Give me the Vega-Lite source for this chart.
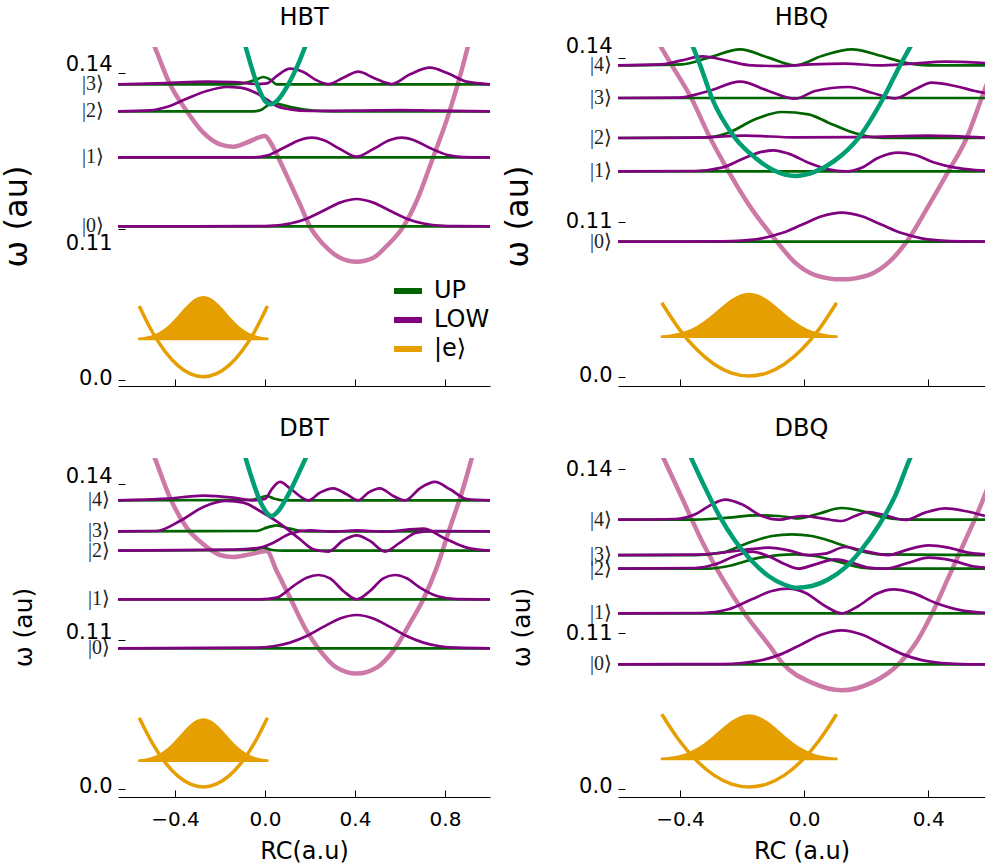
{
"$schema":"https://vega.github.io/schema/vega-lite/v6.json",
"background":"white",
"padding":{"left":0,"top":5,"right":0,"bottom":0},
"config":{"view":{"stroke":null},"axis":{"labelFont":"DejaVu Sans","titleFont":"DejaVu Sans","grid":false},"legend":{"labelFont":"DejaVu Sans"}},
"datasets":{
"hbtlab":[{"t":"|0⟩","x":-0.6533,"y":0.11057},{"t":"|1⟩","x":-0.6533,"y":0.12384},{"t":"|2⟩","x":-0.6533,"y":0.13269},{"t":"|3⟩","x":-0.6533,"y":0.13788}],
"hbqlab":[{"t":"|0⟩","x":-0.6,"y":0.10635},{"t":"|1⟩","x":-0.6,"y":0.11921},{"t":"|2⟩","x":-0.6,"y":0.12531},{"t":"|3⟩","x":-0.6,"y":0.13263},{"t":"|4⟩","x":-0.6,"y":0.1386}],
"dbtlab":[{"t":"|0⟩","x":-0.6533,"y":0.10846},{"t":"|1⟩","x":-0.6533,"y":0.11788},{"t":"|2⟩","x":-0.6533,"y":0.12724},{"t":"|3⟩","x":-0.6533,"y":0.13096},{"t":"|4⟩","x":-0.6533,"y":0.13692}],
"dbqlab":[{"t":"|0⟩","x":-0.6,"y":0.10433},{"t":"|1⟩","x":-0.6,"y":0.11365},{"t":"|2⟩","x":-0.6,"y":0.12182},{"t":"|3⟩","x":-0.6,"y":0.12432},{"t":"|4⟩","x":-0.6,"y":0.13079}],
"hbt":[
{"k":"VL","x":-0.505,"y":0.1466},{"k":"VL","x":-0.4889,"y":0.14493},{"k":"VL","x":-0.4222,"y":0.13788},{"k":"VL","x":-0.3481,"y":0.13275},{"k":"VL","x":-0.2741,"y":0.12858},{"k":"VL","x":-0.2,"y":0.12634},{"k":"VL","x":-0.1407,"y":0.12589},{"k":"VL","x":-0.0815,"y":0.12666},{"k":"VL","x":-0.0296,"y":0.12762},{"k":"VL","x":0.0,"y":0.12794},{"k":"VL","x":0.0252,"y":0.12666},{"k":"VL","x":0.0593,"y":0.12378},{"k":"VL","x":0.1111,"y":0.11897},{"k":"VL","x":0.1556,"y":0.1148},{"k":"VL","x":0.2,"y":0.11051},{"k":"VL","x":0.2593,"y":0.10711},{"k":"VL","x":0.3333,"y":0.10454},{"k":"VL","x":0.4074,"y":0.10378},{"k":"VL","x":0.4815,"y":0.10454},{"k":"VL","x":0.5407,"y":0.10679},{"k":"VL","x":0.6148,"y":0.11051},{"k":"VL","x":0.6741,"y":0.11544},{"k":"VL","x":0.7481,"y":0.12397},{"k":"VL","x":0.8074,"y":0.131},{"k":"VL","x":0.8519,"y":0.1372},{"k":"VL","x":0.8889,"y":0.143},{"k":"VL","x":0.91,"y":0.1466},
{"k":"VU","x":-0.092,"y":0.146},{"k":"VU","x":-0.0859,"y":0.14506},{"k":"VU","x":-0.0593,"y":0.14108},{"k":"VU","x":-0.0296,"y":0.13724},{"k":"VU","x":0.0,"y":0.13468},{"k":"VU","x":0.0252,"y":0.13404},{"k":"VU","x":0.0593,"y":0.135},{"k":"VU","x":0.1037,"y":0.13788},{"k":"VU","x":0.1407,"y":0.14108},{"k":"VU","x":0.1778,"y":0.14506},{"k":"VU","x":0.185,"y":0.1459},
{"k":"UP","n":0,"x":-0.6533,"y":0.11057},{"k":"UP","n":0,"x":1.0,"y":0.11057},
{"k":"UP","n":1,"x":-0.6533,"y":0.12384},{"k":"UP","n":1,"x":1.0,"y":0.12384},
{"k":"UP","n":2,"x":-0.6533,"y":0.13269},{"k":"UP","n":2,"x":-0.0519,"y":0.13269},{"k":"UP","n":2,"x":-0.0148,"y":0.13301},{"k":"UP","n":2,"x":0.0074,"y":0.13371},{"k":"UP","n":2,"x":0.0296,"y":0.13429},{"k":"UP","n":2,"x":0.0667,"y":0.13404},{"k":"UP","n":2,"x":0.1259,"y":0.13339},{"k":"UP","n":2,"x":0.2148,"y":0.13281},{"k":"UP","n":2,"x":0.3037,"y":0.13269},{"k":"UP","n":2,"x":1.0,"y":0.13269},
{"k":"UP","n":3,"x":-0.6533,"y":0.13788},{"k":"UP","n":3,"x":-0.1407,"y":0.13788},{"k":"UP","n":3,"x":-0.0815,"y":0.1382},{"k":"UP","n":3,"x":-0.037,"y":0.13884},{"k":"UP","n":3,"x":-0.0074,"y":0.13929},{"k":"UP","n":3,"x":0.0222,"y":0.13884},{"k":"UP","n":3,"x":0.0519,"y":0.13788},{"k":"UP","n":3,"x":0.0963,"y":0.13788},{"k":"UP","n":3,"x":1.0,"y":0.13788},
{"k":"LOW","n":0,"x":-0.6533,"y":0.11057},{"k":"LOW","n":0,"x":-0.037,"y":0.1106},{"k":"LOW","n":0,"x":0.037,"y":0.11072},{"k":"LOW","n":0,"x":0.1111,"y":0.11112},{"k":"LOW","n":0,"x":0.1852,"y":0.11204},{"k":"LOW","n":0,"x":0.2593,"y":0.11356},{"k":"LOW","n":0,"x":0.3333,"y":0.11513},{"k":"LOW","n":0,"x":0.4074,"y":0.11583},{"k":"LOW","n":0,"x":0.4815,"y":0.11513},{"k":"LOW","n":0,"x":0.5555,"y":0.11356},{"k":"LOW","n":0,"x":0.6296,"y":0.11204},{"k":"LOW","n":0,"x":0.7037,"y":0.11112},{"k":"LOW","n":0,"x":0.7778,"y":0.11072},{"k":"LOW","n":0,"x":0.8518,"y":0.1106},{"k":"LOW","n":0,"x":1.0,"y":0.11057},
{"k":"LOW","n":1,"x":-0.6533,"y":0.12384},{"k":"LOW","n":1,"x":-0.0519,"y":0.12384},{"k":"LOW","n":1,"x":0.0074,"y":0.12416},{"k":"LOW","n":1,"x":0.0815,"y":0.12563},{"k":"LOW","n":1,"x":0.1556,"y":0.12717},{"k":"LOW","n":1,"x":0.2074,"y":0.12762},{"k":"LOW","n":1,"x":0.2593,"y":0.12717},{"k":"LOW","n":1,"x":0.3333,"y":0.12544},{"k":"LOW","n":1,"x":0.4074,"y":0.12397},{"k":"LOW","n":1,"x":0.4815,"y":0.12544},{"k":"LOW","n":1,"x":0.5556,"y":0.12717},{"k":"LOW","n":1,"x":0.6074,"y":0.12762},{"k":"LOW","n":1,"x":0.6593,"y":0.12717},{"k":"LOW","n":1,"x":0.7333,"y":0.12563},{"k":"LOW","n":1,"x":0.8074,"y":0.12435},{"k":"LOW","n":1,"x":0.8815,"y":0.1239},{"k":"LOW","n":1,"x":1.0,"y":0.12384},
{"k":"LOW","n":2,"x":-0.6533,"y":0.13269},{"k":"LOW","n":2,"x":-0.5111,"y":0.13288},{"k":"LOW","n":2,"x":-0.437,"y":0.13352},{"k":"LOW","n":2,"x":-0.3481,"y":0.13512},{"k":"LOW","n":2,"x":-0.2593,"y":0.1366},{"k":"LOW","n":2,"x":-0.1704,"y":0.13737},{"k":"LOW","n":2,"x":-0.1111,"y":0.13724},{"k":"LOW","n":2,"x":-0.0519,"y":0.13647},{"k":"LOW","n":2,"x":0.0074,"y":0.13499},{"k":"LOW","n":2,"x":0.0519,"y":0.13371},{"k":"LOW","n":2,"x":0.1111,"y":0.13307},{"k":"LOW","n":2,"x":0.2,"y":0.13275},{"k":"LOW","n":2,"x":0.4074,"y":0.13281},{"k":"LOW","n":2,"x":0.6,"y":0.13294},{"k":"LOW","n":2,"x":0.7481,"y":0.13281},{"k":"LOW","n":2,"x":1.0,"y":0.13269},
{"k":"LOW","n":3,"x":-0.6533,"y":0.13788},{"k":"LOW","n":3,"x":-0.437,"y":0.13813},{"k":"LOW","n":3,"x":-0.2593,"y":0.13839},{"k":"LOW","n":3,"x":-0.1407,"y":0.13833},{"k":"LOW","n":3,"x":-0.037,"y":0.13794},{"k":"LOW","n":3,"x":0.0074,"y":0.13807},{"k":"LOW","n":3,"x":0.0519,"y":0.13948},{"k":"LOW","n":3,"x":0.1111,"y":0.14089},{"k":"LOW","n":3,"x":0.1704,"y":0.14025},{"k":"LOW","n":3,"x":0.2296,"y":0.13865},{"k":"LOW","n":3,"x":0.2815,"y":0.13794},{"k":"LOW","n":3,"x":0.3481,"y":0.13916},{"k":"LOW","n":3,"x":0.4148,"y":0.14032},{"k":"LOW","n":3,"x":0.4815,"y":0.13916},{"k":"LOW","n":3,"x":0.563,"y":0.13794},{"k":"LOW","n":3,"x":0.6444,"y":0.1398},{"k":"LOW","n":3,"x":0.7333,"y":0.14108},{"k":"LOW","n":3,"x":0.8074,"y":0.14012},{"k":"LOW","n":3,"x":0.8963,"y":0.13839},{"k":"LOW","n":3,"x":1.0,"y":0.13788},
{"k":"eV","x":-0.559,"y":0.74},{"k":"eV","x":-0.502,"y":0.485},{"k":"eV","x":-0.445,"y":0.288},{"k":"eV","x":-0.388,"y":0.146},{"k":"eV","x":-0.331,"y":0.061},{"k":"eV","x":-0.274,"y":0.033},{"k":"eV","x":-0.217,"y":0.061},{"k":"eV","x":-0.16,"y":0.146},{"k":"eV","x":-0.103,"y":0.288},{"k":"eV","x":-0.046,"y":0.485},{"k":"eV","x":0.011,"y":0.74},
{"k":"eW","b":0.407,"x":-0.559,"y":0.414},{"k":"eW","b":0.407,"x":-0.5305,"y":0.423},{"k":"eW","b":0.407,"x":-0.502,"y":0.438},{"k":"eW","b":0.407,"x":-0.4735,"y":0.464},{"k":"eW","b":0.407,"x":-0.445,"y":0.504},{"k":"eW","b":0.407,"x":-0.4165,"y":0.559},{"k":"eW","b":0.407,"x":-0.388,"y":0.627},{"k":"eW","b":0.407,"x":-0.3595,"y":0.7},{"k":"eW","b":0.407,"x":-0.331,"y":0.766},{"k":"eW","b":0.407,"x":-0.3025,"y":0.813},{"k":"eW","b":0.407,"x":-0.274,"y":0.83},{"k":"eW","b":0.407,"x":-0.2455,"y":0.813},{"k":"eW","b":0.407,"x":-0.217,"y":0.766},{"k":"eW","b":0.407,"x":-0.1885,"y":0.7},{"k":"eW","b":0.407,"x":-0.16,"y":0.627},{"k":"eW","b":0.407,"x":-0.1315,"y":0.559},{"k":"eW","b":0.407,"x":-0.103,"y":0.504},{"k":"eW","b":0.407,"x":-0.0745,"y":0.464},{"k":"eW","b":0.407,"x":-0.046,"y":0.438},{"k":"eW","b":0.407,"x":-0.0175,"y":0.423},{"k":"eW","b":0.407,"x":0.011,"y":0.414}
],
"hbq":[
{"k":"VL","x":-0.48,"y":0.1437},{"k":"VL","x":-0.4616,"y":0.14196},{"k":"VL","x":-0.4262,"y":0.1386},{"k":"VL","x":-0.3639,"y":0.13263},{"k":"VL","x":-0.3027,"y":0.12531},{"k":"VL","x":-0.2437,"y":0.11921},{"k":"VL","x":-0.1793,"y":0.11318},{"k":"VL","x":-0.088,"y":0.10635},{"k":"VL","x":-0.029,"y":0.10251},{"k":"VL","x":0.0354,"y":0.10025},{"k":"VL","x":0.1213,"y":0.09946},{"k":"VL","x":0.2072,"y":0.10025},{"k":"VL","x":0.2716,"y":0.10251},{"k":"VL","x":0.3307,"y":0.10635},{"k":"VL","x":0.4004,"y":0.11287},{"k":"VL","x":0.4648,"y":0.11921},{"k":"VL","x":0.5239,"y":0.12531},{"k":"VL","x":0.5722,"y":0.13263},{"k":"VL","x":0.6044,"y":0.13757},
{"k":"VU","x":-0.3618,"y":0.14245},{"k":"VU","x":-0.3349,"y":0.1386},{"k":"VU","x":-0.2974,"y":0.13263},{"k":"VU","x":-0.2222,"y":0.12531},{"k":"VU","x":-0.1578,"y":0.12171},{"k":"VU","x":-0.0934,"y":0.11927},{"k":"VU","x":-0.029,"y":0.11836},{"k":"VU","x":0.0354,"y":0.11915},{"k":"VU","x":0.0998,"y":0.12123},{"k":"VU","x":0.175,"y":0.12531},{"k":"VU","x":0.2555,"y":0.13263},{"k":"VU","x":0.3092,"y":0.1386},{"k":"VU","x":0.3468,"y":0.14245},
{"k":"UP","n":0,"x":-0.6,"y":0.10635},{"k":"UP","n":0,"x":0.583,"y":0.10635},
{"k":"UP","n":1,"x":-0.6,"y":0.11921},{"k":"UP","n":1,"x":0.583,"y":0.11921},
{"k":"UP","n":2,"x":-0.6,"y":0.12531},{"k":"UP","n":2,"x":-0.3296,"y":0.12537},{"k":"UP","n":2,"x":-0.2437,"y":0.12629},{"k":"UP","n":2,"x":-0.1578,"y":0.12873},{"k":"UP","n":2,"x":-0.0719,"y":0.13007},{"k":"UP","n":2,"x":0.014,"y":0.12964},{"k":"UP","n":2,"x":0.0784,"y":0.12812},{"k":"UP","n":2,"x":0.1428,"y":0.12659},{"k":"UP","n":2,"x":0.2179,"y":0.12549},{"k":"UP","n":2,"x":0.2931,"y":0.12531},{"k":"UP","n":2,"x":0.583,"y":0.12531},
{"k":"UP","n":3,"x":-0.6,"y":0.13263},{"k":"UP","n":3,"x":0.583,"y":0.13263},
{"k":"UP","n":4,"x":-0.6,"y":0.1386},{"k":"UP","n":4,"x":-0.394,"y":0.13879},{"k":"UP","n":4,"x":-0.3081,"y":0.14001},{"k":"UP","n":4,"x":-0.2061,"y":0.14153},{"k":"UP","n":4,"x":-0.1149,"y":0.14001},{"k":"UP","n":4,"x":-0.029,"y":0.1386},{"k":"UP","n":4,"x":0.0569,"y":0.14031},{"k":"UP","n":4,"x":0.1535,"y":0.14153},{"k":"UP","n":4,"x":0.2501,"y":0.14031},{"k":"UP","n":4,"x":0.3253,"y":0.13909},{"k":"UP","n":4,"x":0.4004,"y":0.1386},{"k":"UP","n":4,"x":0.583,"y":0.1386},
{"k":"LOW","n":0,"x":-0.6,"y":0.10635},{"k":"LOW","n":0,"x":-0.2652,"y":0.10639},{"k":"LOW","n":0,"x":-0.2008,"y":0.10653},{"k":"LOW","n":0,"x":-0.1364,"y":0.10696},{"k":"LOW","n":0,"x":-0.0719,"y":0.10793},{"k":"LOW","n":0,"x":-0.0075,"y":0.10944},{"k":"LOW","n":0,"x":0.0569,"y":0.11099},{"k":"LOW","n":0,"x":0.1213,"y":0.11166},{"k":"LOW","n":0,"x":0.1857,"y":0.11099},{"k":"LOW","n":0,"x":0.2501,"y":0.10944},{"k":"LOW","n":0,"x":0.3145,"y":0.10793},{"k":"LOW","n":0,"x":0.379,"y":0.10696},{"k":"LOW","n":0,"x":0.4434,"y":0.10653},{"k":"LOW","n":0,"x":0.5078,"y":0.10639},{"k":"LOW","n":0,"x":0.583,"y":0.10635},
{"k":"LOW","n":1,"x":-0.6,"y":0.11921},{"k":"LOW","n":1,"x":-0.351,"y":0.11928},{"k":"LOW","n":1,"x":-0.2652,"y":0.11989},{"k":"LOW","n":1,"x":-0.2008,"y":0.12141},{"k":"LOW","n":1,"x":-0.1471,"y":0.12263},{"k":"LOW","n":1,"x":-0.0988,"y":0.12306},{"k":"LOW","n":1,"x":-0.0505,"y":0.12245},{"k":"LOW","n":1,"x":0.014,"y":0.1208},{"k":"LOW","n":1,"x":0.0784,"y":0.11958},{"k":"LOW","n":1,"x":0.132,"y":0.11921},{"k":"LOW","n":1,"x":0.1857,"y":0.11989},{"k":"LOW","n":1,"x":0.2394,"y":0.12171},{"k":"LOW","n":1,"x":0.3038,"y":0.12263},{"k":"LOW","n":1,"x":0.3575,"y":0.1222},{"k":"LOW","n":1,"x":0.4219,"y":0.1208},{"k":"LOW","n":1,"x":0.4863,"y":0.11989},{"k":"LOW","n":1,"x":0.5507,"y":0.11946},{"k":"LOW","n":1,"x":0.6151,"y":0.11928},
{"k":"LOW","n":2,"x":-0.6,"y":0.12531},{"k":"LOW","n":2,"x":-0.351,"y":0.12537},{"k":"LOW","n":2,"x":-0.19,"y":0.12574},{"k":"LOW","n":2,"x":-0.029,"y":0.12543},{"k":"LOW","n":2,"x":0.1857,"y":0.12549},{"k":"LOW","n":2,"x":0.4004,"y":0.12574},{"k":"LOW","n":2,"x":0.583,"y":0.12537},
{"k":"LOW","n":3,"x":-0.6,"y":0.13263},{"k":"LOW","n":3,"x":-0.4047,"y":0.13269},{"k":"LOW","n":3,"x":-0.3081,"y":0.13391},{"k":"LOW","n":3,"x":-0.2061,"y":0.13561},{"k":"LOW","n":3,"x":-0.1149,"y":0.13391},{"k":"LOW","n":3,"x":-0.029,"y":0.1325},{"k":"LOW","n":3,"x":0.0354,"y":0.13391},{"k":"LOW","n":3,"x":0.1428,"y":0.13464},{"k":"LOW","n":3,"x":0.2179,"y":0.1336},{"k":"LOW","n":3,"x":0.2931,"y":0.13257},{"k":"LOW","n":3,"x":0.3575,"y":0.13421},{"k":"LOW","n":3,"x":0.4112,"y":0.13543},{"k":"LOW","n":3,"x":0.4863,"y":0.13482},{"k":"LOW","n":3,"x":0.5507,"y":0.13391},{"k":"LOW","n":3,"x":0.5829,"y":0.13354},
{"k":"LOW","n":4,"x":-0.6,"y":0.1386},{"k":"LOW","n":4,"x":-0.4584,"y":0.13879},{"k":"LOW","n":4,"x":-0.394,"y":0.13952},{"k":"LOW","n":4,"x":-0.3296,"y":0.14025},{"k":"LOW","n":4,"x":-0.2437,"y":0.1394},{"k":"LOW","n":4,"x":-0.1793,"y":0.13866},{"k":"LOW","n":4,"x":-0.0827,"y":0.13848},{"k":"LOW","n":4,"x":0.0247,"y":0.13879},{"k":"LOW","n":4,"x":0.132,"y":0.13891},{"k":"LOW","n":4,"x":0.2394,"y":0.1386},{"k":"LOW","n":4,"x":0.3468,"y":0.13891},{"k":"LOW","n":4,"x":0.4541,"y":0.13927},{"k":"LOW","n":4,"x":0.5829,"y":0.13903},
{"k":"eV","x":-0.4589,"y":0.743},{"k":"eV","x":-0.4025,"y":0.479},{"k":"eV","x":-0.3462,"y":0.274},{"k":"eV","x":-0.2898,"y":0.127},{"k":"eV","x":-0.2335,"y":0.039},{"k":"eV","x":-0.1771,"y":0.01},{"k":"eV","x":-0.1207,"y":0.039},{"k":"eV","x":-0.0644,"y":0.127},{"k":"eV","x":-0.008,"y":0.274},{"k":"eV","x":0.0483,"y":0.479},{"k":"eV","x":0.1047,"y":0.743},
{"k":"eW","b":0.4,"x":-0.4589,"y":0.407},{"k":"eW","b":0.4,"x":-0.4307,"y":0.416},{"k":"eW","b":0.4,"x":-0.4025,"y":0.432},{"k":"eW","b":0.4,"x":-0.3744,"y":0.458},{"k":"eW","b":0.4,"x":-0.3462,"y":0.5},{"k":"eW","b":0.4,"x":-0.318,"y":0.556},{"k":"eW","b":0.4,"x":-0.2898,"y":0.625},{"k":"eW","b":0.4,"x":-0.2616,"y":0.7},{"k":"eW","b":0.4,"x":-0.2335,"y":0.768},{"k":"eW","b":0.4,"x":-0.2053,"y":0.816},{"k":"eW","b":0.4,"x":-0.1771,"y":0.833},{"k":"eW","b":0.4,"x":-0.1489,"y":0.816},{"k":"eW","b":0.4,"x":-0.1207,"y":0.768},{"k":"eW","b":0.4,"x":-0.0926,"y":0.7},{"k":"eW","b":0.4,"x":-0.0644,"y":0.625},{"k":"eW","b":0.4,"x":-0.0362,"y":0.556},{"k":"eW","b":0.4,"x":-0.008,"y":0.5},{"k":"eW","b":0.4,"x":0.0202,"y":0.458},{"k":"eW","b":0.4,"x":0.0483,"y":0.432},{"k":"eW","b":0.4,"x":0.0765,"y":0.416},{"k":"eW","b":0.4,"x":0.1047,"y":0.407}
],
"dbt":[
{"k":"VL","x":-0.505,"y":0.1468},{"k":"VL","x":-0.4889,"y":0.14499},{"k":"VL","x":-0.4222,"y":0.13743},{"k":"VL","x":-0.3481,"y":0.13167},{"k":"VL","x":-0.2741,"y":0.12846},{"k":"VL","x":-0.2,"y":0.12641},{"k":"VL","x":-0.1407,"y":0.12603},{"k":"VL","x":-0.0667,"y":0.12653},{"k":"VL","x":0.0074,"y":0.12718},{"k":"VL","x":0.0519,"y":0.12333},{"k":"VL","x":0.1111,"y":0.11821},{"k":"VL","x":0.1852,"y":0.1118},{"k":"VL","x":0.237,"y":0.10846},{"k":"VL","x":0.3185,"y":0.10475},{"k":"VL","x":0.4074,"y":0.1036},{"k":"VL","x":0.4963,"y":0.10475},{"k":"VL","x":0.5778,"y":0.10846},{"k":"VL","x":0.6444,"y":0.1133},{"k":"VL","x":0.7037,"y":0.11788},{"k":"VL","x":0.763,"y":0.12397},{"k":"VL","x":0.8222,"y":0.13167},{"k":"VL","x":0.8815,"y":0.13936},{"k":"VL","x":0.9185,"y":0.14499},{"k":"VL","x":0.93,"y":0.1468},
{"k":"VU","x":-0.0889,"y":0.14545},{"k":"VU","x":-0.0593,"y":0.14128},{"k":"VU","x":-0.0222,"y":0.1368},{"k":"VU","x":0.0074,"y":0.13455},{"k":"VU","x":0.0296,"y":0.13391},{"k":"VU","x":0.0593,"y":0.13487},{"k":"VU","x":0.0963,"y":0.13744},{"k":"VU","x":0.1407,"y":0.14128},{"k":"VU","x":0.1852,"y":0.14545},
{"k":"UP","n":0,"x":-0.6533,"y":0.10846},{"k":"UP","n":0,"x":1.0,"y":0.10846},
{"k":"UP","n":1,"x":-0.6533,"y":0.11788},{"k":"UP","n":1,"x":1.0,"y":0.11788},
{"k":"UP","n":2,"x":-0.6533,"y":0.12724},{"k":"UP","n":2,"x":-0.0519,"y":0.12737},{"k":"UP","n":2,"x":-0.0074,"y":0.12782},{"k":"UP","n":2,"x":0.0296,"y":0.12737},{"k":"UP","n":2,"x":0.0815,"y":0.12724},{"k":"UP","n":2,"x":1.0,"y":0.12724},
{"k":"UP","n":3,"x":-0.6533,"y":0.13096},{"k":"UP","n":3,"x":-0.037,"y":0.13102},{"k":"UP","n":3,"x":0.0074,"y":0.13167},{"k":"UP","n":3,"x":0.0519,"y":0.13212},{"k":"UP","n":3,"x":0.1111,"y":0.13147},{"k":"UP","n":3,"x":0.1852,"y":0.13096},{"k":"UP","n":3,"x":1.0,"y":0.13096},
{"k":"UP","n":4,"x":-0.6533,"y":0.13692},{"k":"UP","n":4,"x":-0.0667,"y":0.13698},{"k":"UP","n":4,"x":-0.0222,"y":0.13743},{"k":"UP","n":4,"x":0.0074,"y":0.13775},{"k":"UP","n":4,"x":0.037,"y":0.1373},{"k":"UP","n":4,"x":0.0815,"y":0.13692},{"k":"UP","n":4,"x":1.0,"y":0.13692},
{"k":"LOW","n":0,"x":-0.6533,"y":0.10846},{"k":"LOW","n":0,"x":-0.037,"y":0.10858},{"k":"LOW","n":0,"x":0.037,"y":0.10886},{"k":"LOW","n":0,"x":0.1111,"y":0.10956},{"k":"LOW","n":0,"x":0.1852,"y":0.11083},{"k":"LOW","n":0,"x":0.2593,"y":0.11258},{"k":"LOW","n":0,"x":0.3333,"y":0.1142},{"k":"LOW","n":0,"x":0.4074,"y":0.11487},{"k":"LOW","n":0,"x":0.4815,"y":0.1142},{"k":"LOW","n":0,"x":0.5555,"y":0.11258},{"k":"LOW","n":0,"x":0.6296,"y":0.11083},{"k":"LOW","n":0,"x":0.7037,"y":0.10956},{"k":"LOW","n":0,"x":0.7778,"y":0.10886},{"k":"LOW","n":0,"x":0.8518,"y":0.10858},{"k":"LOW","n":0,"x":1.0,"y":0.10846},
{"k":"LOW","n":1,"x":-0.6533,"y":0.11788},{"k":"LOW","n":1,"x":-0.0222,"y":0.11788},{"k":"LOW","n":1,"x":0.0519,"y":0.1182},{"k":"LOW","n":1,"x":0.1259,"y":0.12044},{"k":"LOW","n":1,"x":0.1852,"y":0.12205},{"k":"LOW","n":1,"x":0.237,"y":0.12256},{"k":"LOW","n":1,"x":0.2889,"y":0.12192},{"k":"LOW","n":1,"x":0.3481,"y":0.11949},{"k":"LOW","n":1,"x":0.4074,"y":0.11788},{"k":"LOW","n":1,"x":0.4667,"y":0.11949},{"k":"LOW","n":1,"x":0.5259,"y":0.12192},{"k":"LOW","n":1,"x":0.5778,"y":0.12256},{"k":"LOW","n":1,"x":0.6296,"y":0.12192},{"k":"LOW","n":1,"x":0.6889,"y":0.12013},{"k":"LOW","n":1,"x":0.763,"y":0.11852},{"k":"LOW","n":1,"x":0.8519,"y":0.11794},{"k":"LOW","n":1,"x":1.0,"y":0.11788},
{"k":"LOW","n":2,"x":-0.6533,"y":0.12724},{"k":"LOW","n":2,"x":-0.1407,"y":0.12743},{"k":"LOW","n":2,"x":-0.0222,"y":0.12782},{"k":"LOW","n":2,"x":0.037,"y":0.12878},{"k":"LOW","n":2,"x":0.1111,"y":0.13051},{"k":"LOW","n":2,"x":0.2,"y":0.13115},{"k":"LOW","n":2,"x":0.3037,"y":0.13089},{"k":"LOW","n":2,"x":0.4074,"y":0.13115},{"k":"LOW","n":2,"x":0.5259,"y":0.13089},{"k":"LOW","n":2,"x":0.7037,"y":0.13147},{"k":"LOW","n":2,"x":0.7926,"y":0.12974},{"k":"LOW","n":2,"x":0.8963,"y":0.12782},{"k":"LOW","n":2,"x":1.0,"y":0.12724},
{"k":"LOW","n":3,"x":-0.6533,"y":0.13096},{"k":"LOW","n":3,"x":-0.4815,"y":0.13102},{"k":"LOW","n":3,"x":-0.3778,"y":0.13295},{"k":"LOW","n":3,"x":-0.2741,"y":0.13564},{"k":"LOW","n":3,"x":-0.1704,"y":0.1368},{"k":"LOW","n":3,"x":-0.0963,"y":0.13648},{"k":"LOW","n":3,"x":-0.0222,"y":0.13487},{"k":"LOW","n":3,"x":0.0667,"y":0.13244},{"k":"LOW","n":3,"x":0.1556,"y":0.12943},{"k":"LOW","n":3,"x":0.2148,"y":0.12751},{"k":"LOW","n":3,"x":0.2815,"y":0.12706},{"k":"LOW","n":3,"x":0.3481,"y":0.12924},{"k":"LOW","n":3,"x":0.4074,"y":0.1302},{"k":"LOW","n":3,"x":0.4667,"y":0.12911},{"k":"LOW","n":3,"x":0.5333,"y":0.12706},{"k":"LOW","n":3,"x":0.6,"y":0.12879},{"k":"LOW","n":3,"x":0.6741,"y":0.13071},{"k":"LOW","n":3,"x":0.7481,"y":0.13102},{"k":"LOW","n":3,"x":1.0,"y":0.13096},
{"k":"LOW","n":4,"x":-0.6533,"y":0.13692},{"k":"LOW","n":4,"x":-0.437,"y":0.13724},{"k":"LOW","n":4,"x":-0.2741,"y":0.13782},{"k":"LOW","n":4,"x":-0.1407,"y":0.13743},{"k":"LOW","n":4,"x":-0.0519,"y":0.13692},{"k":"LOW","n":4,"x":0.0,"y":0.13718},{"k":"LOW","n":4,"x":0.0296,"y":0.13904},{"k":"LOW","n":4,"x":0.0667,"y":0.14045},{"k":"LOW","n":4,"x":0.1111,"y":0.13923},{"k":"LOW","n":4,"x":0.1926,"y":0.13692},{"k":"LOW","n":4,"x":0.2444,"y":0.1384},{"k":"LOW","n":4,"x":0.3037,"y":0.13923},{"k":"LOW","n":4,"x":0.363,"y":0.13808},{"k":"LOW","n":4,"x":0.4148,"y":0.13692},{"k":"LOW","n":4,"x":0.4593,"y":0.1384},{"k":"LOW","n":4,"x":0.5111,"y":0.13923},{"k":"LOW","n":4,"x":0.5704,"y":0.13775},{"k":"LOW","n":4,"x":0.6222,"y":0.13692},{"k":"LOW","n":4,"x":0.6889,"y":0.13923},{"k":"LOW","n":4,"x":0.7556,"y":0.14045},{"k":"LOW","n":4,"x":0.8222,"y":0.13904},{"k":"LOW","n":4,"x":0.8963,"y":0.13718},{"k":"LOW","n":4,"x":1.0,"y":0.13692},
{"k":"eV","x":-0.559,"y":0.713},{"k":"eV","x":-0.502,"y":0.464},{"k":"eV","x":-0.445,"y":0.269},{"k":"eV","x":-0.388,"y":0.131},{"k":"eV","x":-0.331,"y":0.048},{"k":"eV","x":-0.274,"y":0.02},{"k":"eV","x":-0.217,"y":0.048},{"k":"eV","x":-0.16,"y":0.131},{"k":"eV","x":-0.103,"y":0.269},{"k":"eV","x":-0.046,"y":0.464},{"k":"eV","x":0.011,"y":0.713},
{"k":"eW","b":0.28,"x":-0.559,"y":0.287},{"k":"eW","b":0.28,"x":-0.5305,"y":0.295},{"k":"eW","b":0.28,"x":-0.502,"y":0.31},{"k":"eW","b":0.28,"x":-0.4735,"y":0.336},{"k":"eW","b":0.28,"x":-0.445,"y":0.376},{"k":"eW","b":0.28,"x":-0.4165,"y":0.43},{"k":"eW","b":0.28,"x":-0.388,"y":0.497},{"k":"eW","b":0.28,"x":-0.3595,"y":0.569},{"k":"eW","b":0.28,"x":-0.331,"y":0.634},{"k":"eW","b":0.28,"x":-0.3025,"y":0.68},{"k":"eW","b":0.28,"x":-0.274,"y":0.697},{"k":"eW","b":0.28,"x":-0.2455,"y":0.68},{"k":"eW","b":0.28,"x":-0.217,"y":0.634},{"k":"eW","b":0.28,"x":-0.1885,"y":0.569},{"k":"eW","b":0.28,"x":-0.16,"y":0.497},{"k":"eW","b":0.28,"x":-0.1315,"y":0.43},{"k":"eW","b":0.28,"x":-0.103,"y":0.376},{"k":"eW","b":0.28,"x":-0.0745,"y":0.336},{"k":"eW","b":0.28,"x":-0.046,"y":0.31},{"k":"eW","b":0.28,"x":-0.0175,"y":0.295},{"k":"eW","b":0.28,"x":0.011,"y":0.287}
],
"dbq":[
{"k":"VL","x":-0.47,"y":0.1441},{"k":"VL","x":-0.453,"y":0.14201},{"k":"VL","x":-0.394,"y":0.13481},{"k":"VL","x":-0.3296,"y":0.12689},{"k":"VL","x":-0.2652,"y":0.12018},{"k":"VL","x":-0.19,"y":0.11348},{"k":"VL","x":-0.1149,"y":0.10799},{"k":"VL","x":-0.0666,"y":0.10433},{"k":"VL","x":0.0247,"y":0.10098},{"k":"VL","x":0.1213,"y":0.09958},{"k":"VL","x":0.2179,"y":0.10098},{"k":"VL","x":0.3038,"y":0.10433},{"k":"VL","x":0.3575,"y":0.10799},{"k":"VL","x":0.4112,"y":0.11348},{"k":"VL","x":0.4648,"y":0.12018},{"k":"VL","x":0.5185,"y":0.12689},{"k":"VL","x":0.5615,"y":0.13237},{"k":"VL","x":0.6044,"y":0.13847},
{"k":"VU","x":-0.3671,"y":0.14243},{"k":"VU","x":-0.3296,"y":0.13786},{"k":"VU","x":-0.2759,"y":0.13177},{"k":"VU","x":-0.2222,"y":0.12689},{"k":"VU","x":-0.1685,"y":0.12323},{"k":"VU","x":-0.1149,"y":0.12049},{"k":"VU","x":-0.0612,"y":0.11884},{"k":"VU","x":-0.0236,"y":0.11835},{"k":"VU","x":0.0247,"y":0.11866},{"k":"VU","x":0.0784,"y":0.11988},{"k":"VU","x":0.132,"y":0.12201},{"k":"VU","x":0.1857,"y":0.12537},{"k":"VU","x":0.2394,"y":0.12963},{"k":"VU","x":0.2931,"y":0.13512},{"k":"VU","x":0.3414,"y":0.14201},{"k":"VU","x":0.3521,"y":0.14335},
{"k":"UP","n":0,"x":-0.6,"y":0.10433},{"k":"UP","n":0,"x":0.583,"y":0.10433},
{"k":"UP","n":1,"x":-0.6,"y":0.11365},{"k":"UP","n":1,"x":0.583,"y":0.11365},
{"k":"UP","n":2,"x":-0.6,"y":0.12182},{"k":"UP","n":2,"x":-0.3081,"y":0.12182},{"k":"UP","n":2,"x":-0.2437,"y":0.12231},{"k":"UP","n":2,"x":-0.1578,"y":0.12366},{"k":"UP","n":2,"x":-0.0827,"y":0.12432},{"k":"UP","n":2,"x":-0.029,"y":0.12445},{"k":"UP","n":2,"x":0.0354,"y":0.12414},{"k":"UP","n":2,"x":0.1106,"y":0.12311},{"k":"UP","n":2,"x":0.1857,"y":0.12201},{"k":"UP","n":2,"x":0.2394,"y":0.12182},{"k":"UP","n":2,"x":0.583,"y":0.12182},
{"k":"UP","n":3,"x":-0.6,"y":0.12432},{"k":"UP","n":3,"x":-0.351,"y":0.12432},{"k":"UP","n":3,"x":-0.2652,"y":0.12475},{"k":"UP","n":3,"x":-0.1793,"y":0.12658},{"k":"UP","n":3,"x":-0.1041,"y":0.1278},{"k":"UP","n":3,"x":-0.0397,"y":0.1281},{"k":"UP","n":3,"x":0.0247,"y":0.1278},{"k":"UP","n":3,"x":0.0998,"y":0.12658},{"k":"UP","n":3,"x":0.1643,"y":0.12536},{"k":"UP","n":3,"x":0.2394,"y":0.12445},{"k":"UP","n":3,"x":0.583,"y":0.12432},
{"k":"UP","n":4,"x":-0.6,"y":0.13079},{"k":"UP","n":4,"x":-0.351,"y":0.13079},{"k":"UP","n":4,"x":-0.2437,"y":0.13115},{"k":"UP","n":4,"x":-0.1578,"y":0.13158},{"k":"UP","n":4,"x":-0.0827,"y":0.13146},{"k":"UP","n":4,"x":-0.0183,"y":0.13103},{"k":"UP","n":4,"x":0.0462,"y":0.13188},{"k":"UP","n":4,"x":0.1213,"y":0.13292},{"k":"UP","n":4,"x":0.1857,"y":0.13237},{"k":"UP","n":4,"x":0.2501,"y":0.13128},{"k":"UP","n":4,"x":0.3253,"y":0.13079},{"k":"UP","n":4,"x":0.583,"y":0.13079},
{"k":"LOW","n":0,"x":-0.6,"y":0.10433},{"k":"LOW","n":0,"x":-0.2652,"y":0.10438},{"k":"LOW","n":0,"x":-0.2008,"y":0.10456},{"k":"LOW","n":0,"x":-0.1364,"y":0.10509},{"k":"LOW","n":0,"x":-0.0719,"y":0.10624},{"k":"LOW","n":0,"x":-0.0075,"y":0.10801},{"k":"LOW","n":0,"x":0.0569,"y":0.10978},{"k":"LOW","n":0,"x":0.1213,"y":0.11055},{"k":"LOW","n":0,"x":0.1857,"y":0.10978},{"k":"LOW","n":0,"x":0.2501,"y":0.10801},{"k":"LOW","n":0,"x":0.3145,"y":0.10624},{"k":"LOW","n":0,"x":0.379,"y":0.10509},{"k":"LOW","n":0,"x":0.4434,"y":0.10456},{"k":"LOW","n":0,"x":0.5078,"y":0.10438},{"k":"LOW","n":0,"x":0.583,"y":0.10433},
{"k":"LOW","n":1,"x":-0.6,"y":0.11365},{"k":"LOW","n":1,"x":-0.3296,"y":0.11372},{"k":"LOW","n":1,"x":-0.2437,"y":0.11439},{"k":"LOW","n":1,"x":-0.1685,"y":0.11622},{"k":"LOW","n":1,"x":-0.1041,"y":0.11774},{"k":"LOW","n":1,"x":-0.0505,"y":0.11817},{"k":"LOW","n":1,"x":0.0032,"y":0.11744},{"k":"LOW","n":1,"x":0.0676,"y":0.115},{"k":"LOW","n":1,"x":0.1213,"y":0.11365},{"k":"LOW","n":1,"x":0.175,"y":0.115},{"k":"LOW","n":1,"x":0.234,"y":0.11725},{"k":"LOW","n":1,"x":0.2877,"y":0.11805},{"k":"LOW","n":1,"x":0.3468,"y":0.11744},{"k":"LOW","n":1,"x":0.4219,"y":0.11561},{"k":"LOW","n":1,"x":0.5078,"y":0.1142},{"k":"LOW","n":1,"x":0.5937,"y":0.11372},
{"k":"LOW","n":2,"x":-0.6,"y":0.12182},{"k":"LOW","n":2,"x":-0.351,"y":0.12195},{"k":"LOW","n":2,"x":-0.2866,"y":0.12262},{"k":"LOW","n":2,"x":-0.2222,"y":0.12414},{"k":"LOW","n":2,"x":-0.1685,"y":0.12494},{"k":"LOW","n":2,"x":-0.1041,"y":0.12384},{"k":"LOW","n":2,"x":-0.0612,"y":0.12262},{"k":"LOW","n":2,"x":-0.0183,"y":0.12182},{"k":"LOW","n":2,"x":0.0354,"y":0.12262},{"k":"LOW","n":2,"x":0.0998,"y":0.12353},{"k":"LOW","n":2,"x":0.1535,"y":0.12292},{"k":"LOW","n":2,"x":0.2072,"y":0.12201},{"k":"LOW","n":2,"x":0.2609,"y":0.12182},{"k":"LOW","n":2,"x":0.336,"y":0.12292},{"k":"LOW","n":2,"x":0.4004,"y":0.12384},{"k":"LOW","n":2,"x":0.4756,"y":0.12335},{"k":"LOW","n":2,"x":0.54,"y":0.12231},{"k":"LOW","n":2,"x":0.5937,"y":0.12195},
{"k":"LOW","n":3,"x":-0.6,"y":0.12432},{"k":"LOW","n":3,"x":-0.351,"y":0.12439},{"k":"LOW","n":3,"x":-0.2652,"y":0.12475},{"k":"LOW","n":3,"x":-0.1793,"y":0.12536},{"k":"LOW","n":3,"x":-0.1149,"y":0.12567},{"k":"LOW","n":3,"x":-0.0505,"y":0.12518},{"k":"LOW","n":3,"x":0.014,"y":0.12432},{"k":"LOW","n":3,"x":0.0676,"y":0.12457},{"k":"LOW","n":3,"x":0.132,"y":0.12579},{"k":"LOW","n":3,"x":0.1857,"y":0.12518},{"k":"LOW","n":3,"x":0.2716,"y":0.12432},{"k":"LOW","n":3,"x":0.336,"y":0.12536},{"k":"LOW","n":3,"x":0.4004,"y":0.12609},{"k":"LOW","n":3,"x":0.4648,"y":0.12567},{"k":"LOW","n":3,"x":0.5293,"y":0.12475},{"k":"LOW","n":3,"x":0.5937,"y":0.12439},
{"k":"LOW","n":4,"x":-0.6,"y":0.13079},{"k":"LOW","n":4,"x":-0.4155,"y":0.13091},{"k":"LOW","n":4,"x":-0.351,"y":0.13176},{"k":"LOW","n":4,"x":-0.2974,"y":0.13359},{"k":"LOW","n":4,"x":-0.2544,"y":0.13445},{"k":"LOW","n":4,"x":-0.2008,"y":0.13359},{"k":"LOW","n":4,"x":-0.1363,"y":0.13146},{"k":"LOW","n":4,"x":-0.0827,"y":0.13079},{"k":"LOW","n":4,"x":-0.0075,"y":0.13146},{"k":"LOW","n":4,"x":0.0569,"y":0.13103},{"k":"LOW","n":4,"x":0.1213,"y":0.13055},{"k":"LOW","n":4,"x":0.1643,"y":0.13146},{"k":"LOW","n":4,"x":0.2072,"y":0.13219},{"k":"LOW","n":4,"x":0.2609,"y":0.13158},{"k":"LOW","n":4,"x":0.3253,"y":0.13073},{"k":"LOW","n":4,"x":0.3897,"y":0.13207},{"k":"LOW","n":4,"x":0.4541,"y":0.13286},{"k":"LOW","n":4,"x":0.5185,"y":0.13237},{"k":"LOW","n":4,"x":0.5829,"y":0.13146},
{"k":"eV","x":-0.4589,"y":0.747},{"k":"eV","x":-0.4025,"y":0.485},{"k":"eV","x":-0.3462,"y":0.282},{"k":"eV","x":-0.2898,"y":0.136},{"k":"eV","x":-0.2335,"y":0.049},{"k":"eV","x":-0.1771,"y":0.02},{"k":"eV","x":-0.1207,"y":0.049},{"k":"eV","x":-0.0644,"y":0.136},{"k":"eV","x":-0.008,"y":0.282},{"k":"eV","x":0.0483,"y":0.485},{"k":"eV","x":0.1047,"y":0.747},
{"k":"eW","b":0.297,"x":-0.4589,"y":0.304},{"k":"eW","b":0.297,"x":-0.4307,"y":0.313},{"k":"eW","b":0.297,"x":-0.4025,"y":0.329},{"k":"eW","b":0.297,"x":-0.3744,"y":0.356},{"k":"eW","b":0.297,"x":-0.3462,"y":0.398},{"k":"eW","b":0.297,"x":-0.318,"y":0.455},{"k":"eW","b":0.297,"x":-0.2898,"y":0.526},{"k":"eW","b":0.297,"x":-0.2616,"y":0.602},{"k":"eW","b":0.297,"x":-0.2335,"y":0.671},{"k":"eW","b":0.297,"x":-0.2053,"y":0.719},{"k":"eW","b":0.297,"x":-0.1771,"y":0.737},{"k":"eW","b":0.297,"x":-0.1489,"y":0.719},{"k":"eW","b":0.297,"x":-0.1207,"y":0.671},{"k":"eW","b":0.297,"x":-0.0926,"y":0.602},{"k":"eW","b":0.297,"x":-0.0644,"y":0.526},{"k":"eW","b":0.297,"x":-0.0362,"y":0.455},{"k":"eW","b":0.297,"x":-0.008,"y":0.398},{"k":"eW","b":0.297,"x":0.0202,"y":0.356},{"k":"eW","b":0.297,"x":0.0483,"y":0.329},{"k":"eW","b":0.297,"x":0.0765,"y":0.313},{"k":"eW","b":0.297,"x":0.1047,"y":0.304}
]
},
"columns":2,
"spacing":{"row":72,"column":128},
"bounds":"flush",
"concat":[
{
"width":372,"height":339,
"title":{"text":"HBT","fontSize":24,"font":"DejaVu Sans","fontWeight":"normal","color":"black","anchor":"middle","frame":"group","offset":17},
"data":{"name":"hbt"},
"resolve":{"scale":{"y":"independent"},"axis":{"y":"independent"}},
"encoding":{"x":{"field":"x","type":"quantitative","scale":{"domain":[-0.6533,1.0],"nice":false,"zero":false},"axis":{"values":[-0.4,0,0.4,0.8],"labels":false,"title":null,"tickSize":-7,"domainColor":"black","tickColor":"black"}}},
"layer":[
{"encoding":{"y":{"field":"y","type":"quantitative","scale":{"domain":[0.07987,0.14506],"nice":false,"zero":false},"axis":{"orient":"left","values":[0.11,0.14],"format":".2f","domain":false,"tickSize":-7,"tickColor":"black","labelFontSize":21,"labelColor":"black","labelPadding":13,"labelOffset":{"condition":{"test":"datum.value > 0.125","value":-9},"value":14},"title":"ω (au)","titleFontSize":32,"titleFontWeight":"normal","titleColor":"black","titleX":-102,"titleY":169,"titleBaseline":"middle"}}},
"layer":[
{"transform":[{"filter":"datum.k == 'VL'"}],"mark":{"type":"line","color":"#cc79a7","strokeWidth":4.5,"clip":true,"interpolate":"monotone"}},
{"transform":[{"filter":"datum.k == 'UP'"}],"mark":{"type":"line","strokeWidth":2.7,"clip":true,"interpolate":"monotone"},"encoding":{"detail":{"field":"n","type":"nominal"},"color":{"field":"k","type":"nominal","scale":{"domain":["UP","LOW","eV"],"range":["#006400","#800080","#e69f00"]},"legend":{"orient":"none","legendX":273,"legendY":227,"title":null,"symbolType":"stroke","symbolStrokeWidth":6,"symbolSize":784,"labelFontSize":24,"labelColor":"black","labelExpr":"datum.label == 'eV' ? '|e⟩' : datum.label","rowPadding":0,"labelOffset":9}}}},
{"transform":[{"filter":"datum.k == 'LOW'"}],"mark":{"type":"line","strokeWidth":2.7,"clip":true,"interpolate":"monotone"},"encoding":{"detail":{"field":"n","type":"nominal"},"color":{"field":"k","type":"nominal","scale":{"domain":["UP","LOW","eV"],"range":["#006400","#800080","#e69f00"]}}}},
{"transform":[{"filter":"datum.k == 'VU'"}],"mark":{"type":"line","color":"#009e73","strokeWidth":4.5,"clip":true,"interpolate":"monotone"}},
{"data":{"name":"hbtlab"},"mark":{"type":"text","align":"right","baseline":"middle","dx":-14,"font":"Liberation Serif","fontSize":20,"color":"#222222"},"encoding":{"text":{"field":"t","type":"nominal"}}},
{"data":{"values":[{}]},"mark":{"type":"rule","color":"black","strokeWidth":1},"encoding":{"x":{"datum":-0.6533},"y":{"datum":0.10006},"y2":{"datum":0.14506}}},
{"data":{"values":[{}]},"mark":{"type":"rule","color":"black","strokeWidth":1},"encoding":{"x":{"datum":-0.6711},"x2":{"datum":-0.6355},"y":{"datum":0.09958},"y2":{"datum":0.10054}}}
]},
{"encoding":{"y":{"field":"y","type":"quantitative","scale":{"domain":[-0.06,3.33],"nice":false,"zero":false},"axis":{"orient":"left","values":[0],"format":".1f","domain":false,"tickSize":-7,"tickColor":"black","labelFontSize":21,"labelColor":"black","labelPadding":13,"labelOffset":-2,"title":null}}},
"layer":[
{"transform":[{"filter":"datum.k == 'eW'"}],"mark":{"type":"area","color":"#e69f00","stroke":"#e69f00","strokeWidth":2,"interpolate":"monotone"},"encoding":{"y2":{"field":"b"}}},
{"transform":[{"filter":"datum.k == 'eV'"}],"mark":{"type":"line","strokeWidth":3.5,"interpolate":"monotone"},"encoding":{"color":{"field":"k","type":"nominal","scale":{"domain":["UP","LOW","eV"],"range":["#006400","#800080","#e69f00"]}}}},
{"data":{"values":[{}]},"mark":{"type":"rule","color":"black","strokeWidth":1},"encoding":{"x":{"datum":-0.6533},"y":{"datum":-0.06},"y2":{"datum":0.95}}},
{"data":{"values":[{}]},"mark":{"type":"rule","color":"black","strokeWidth":1},"encoding":{"x":{"datum":-0.6711},"x2":{"datum":-0.6355},"y":{"datum":0.925},"y2":{"datum":0.975}}}
]}
]
},
{
"width":367,"height":339,
"title":{"text":"HBQ","fontSize":24,"font":"DejaVu Sans","fontWeight":"normal","color":"black","anchor":"middle","frame":"group","offset":6},
"data":{"name":"hbq"},
"resolve":{"scale":{"y":"independent"},"axis":{"y":"independent"}},
"encoding":{"x":{"field":"x","type":"quantitative","scale":{"domain":[-0.6,0.583],"nice":false,"zero":false},"axis":{"values":[-0.4,0,0.4],"labels":false,"title":null,"tickSize":-7,"domainColor":"black","tickColor":"black"}}},
"layer":[
{"encoding":{"y":{"field":"y","type":"quantitative","scale":{"domain":[0.07995,0.14196],"nice":false,"zero":false},"axis":{"orient":"left","values":[0.11,0.14],"format":".2f","domain":false,"tickSize":-7,"tickColor":"black","labelFontSize":21,"labelColor":"black","labelPadding":13,"labelOffset":{"condition":{"test":"datum.value > 0.125","value":-11},"value":0},"title":"ω (au)","titleFontSize":32,"titleFontWeight":"normal","titleColor":"black","titleX":-101,"titleY":169,"titleBaseline":"middle"}}},
"layer":[
{"transform":[{"filter":"datum.k == 'VL'"}],"mark":{"type":"line","color":"#cc79a7","strokeWidth":4.5,"clip":true,"interpolate":"monotone"}},
{"transform":[{"filter":"datum.k == 'UP'"}],"mark":{"type":"line","strokeWidth":2.7,"clip":true,"interpolate":"monotone"},"encoding":{"detail":{"field":"n","type":"nominal"},"color":{"field":"k","type":"nominal","scale":{"domain":["UP","LOW","eV"],"range":["#006400","#800080","#e69f00"]}}}},
{"transform":[{"filter":"datum.k == 'LOW'"}],"mark":{"type":"line","strokeWidth":2.7,"clip":true,"interpolate":"monotone"},"encoding":{"detail":{"field":"n","type":"nominal"},"color":{"field":"k","type":"nominal","scale":{"domain":["UP","LOW","eV"],"range":["#006400","#800080","#e69f00"]}}}},
{"transform":[{"filter":"datum.k == 'VU'"}],"mark":{"type":"line","color":"#009e73","strokeWidth":4.5,"clip":true,"interpolate":"monotone"}},
{"data":{"name":"hbqlab"},"mark":{"type":"text","align":"right","baseline":"middle","dx":-6,"font":"Liberation Serif","fontSize":20,"color":"#222222"},"encoding":{"text":{"field":"t","type":"nominal"}}},
{"data":{"values":[{}]},"mark":{"type":"rule","color":"black","strokeWidth":1},"encoding":{"x":{"datum":-0.6},"y":{"datum":0.09915},"y2":{"datum":0.14196}}},
{"data":{"values":[{}]},"mark":{"type":"rule","color":"black","strokeWidth":1},"encoding":{"x":{"datum":-0.6129},"x2":{"datum":-0.5871},"y":{"datum":0.09869},"y2":{"datum":0.09961}}}
]},
{"encoding":{"y":{"field":"y","type":"quantitative","scale":{"domain":[-0.09,3.3],"nice":false,"zero":false},"axis":{"orient":"left","values":[0],"format":".1f","domain":false,"tickSize":-7,"tickColor":"black","labelFontSize":21,"labelColor":"black","labelPadding":13,"labelOffset":-2,"title":null}}},
"layer":[
{"transform":[{"filter":"datum.k == 'eW'"}],"mark":{"type":"area","color":"#e69f00","stroke":"#e69f00","strokeWidth":2,"interpolate":"monotone"},"encoding":{"y2":{"field":"b"}}},
{"transform":[{"filter":"datum.k == 'eV'"}],"mark":{"type":"line","strokeWidth":3.5,"interpolate":"monotone"},"encoding":{"color":{"field":"k","type":"nominal","scale":{"domain":["UP","LOW","eV"],"range":["#006400","#800080","#e69f00"]}}}},
{"data":{"values":[{}]},"mark":{"type":"rule","color":"black","strokeWidth":1},"encoding":{"x":{"datum":-0.6},"y":{"datum":-0.09},"y2":{"datum":0.92}}},
{"data":{"values":[{}]},"mark":{"type":"rule","color":"black","strokeWidth":1},"encoding":{"x":{"datum":-0.6129},"x2":{"datum":-0.5871},"y":{"datum":0.895},"y2":{"datum":0.945}}}
]}
]
},
{
"width":372,"height":339,
"title":{"text":"DBT","fontSize":24,"font":"DejaVu Sans","fontWeight":"normal","color":"black","anchor":"middle","frame":"group","offset":17},
"data":{"name":"dbt"},
"resolve":{"scale":{"y":"independent"},"axis":{"y":"independent"}},
"encoding":{"x":{"field":"x","type":"quantitative","scale":{"domain":[-0.6533,1.0],"nice":false,"zero":false},"axis":{"values":[-0.4,0,0.4,0.8],"format":".1f","tickSize":-7,"domainColor":"black","tickColor":"black","labelFontSize":20,"labelColor":"black","labelPadding":19,"title":"RC(a.u)","titleFontSize":24,"titleFontWeight":"normal","titleColor":"black","titlePadding":10}}},
"layer":[
{"encoding":{"y":{"field":"y","type":"quantitative","scale":{"domain":[0.07987,0.14506],"nice":false,"zero":false},"axis":{"orient":"left","values":[0.11,0.14],"format":".2f","domain":false,"tickSize":-7,"tickColor":"black","labelFontSize":21,"labelColor":"black","labelPadding":13,"labelOffset":-8,"title":"ω (au)","titleFontSize":25,"titleFontWeight":"normal","titleColor":"black","titleX":-95,"titleY":169,"titleBaseline":"middle"}}},
"layer":[
{"transform":[{"filter":"datum.k == 'VL'"}],"mark":{"type":"line","color":"#cc79a7","strokeWidth":4.5,"clip":true,"interpolate":"monotone"}},
{"transform":[{"filter":"datum.k == 'UP'"}],"mark":{"type":"line","strokeWidth":2.7,"clip":true,"interpolate":"monotone"},"encoding":{"detail":{"field":"n","type":"nominal"},"color":{"field":"k","type":"nominal","scale":{"domain":["UP","LOW","eV"],"range":["#006400","#800080","#e69f00"]}}}},
{"transform":[{"filter":"datum.k == 'LOW'"}],"mark":{"type":"line","strokeWidth":2.7,"clip":true,"interpolate":"monotone"},"encoding":{"detail":{"field":"n","type":"nominal"},"color":{"field":"k","type":"nominal","scale":{"domain":["UP","LOW","eV"],"range":["#006400","#800080","#e69f00"]}}}},
{"transform":[{"filter":"datum.k == 'VU'"}],"mark":{"type":"line","color":"#009e73","strokeWidth":4.5,"clip":true,"interpolate":"monotone"}},
{"data":{"name":"dbtlab"},"mark":{"type":"text","align":"right","baseline":"middle","dx":-8,"font":"Liberation Serif","fontSize":20,"color":"#222222"},"encoding":{"text":{"field":"t","type":"nominal"}}},
{"data":{"values":[{}]},"mark":{"type":"rule","color":"black","strokeWidth":1},"encoding":{"x":{"datum":-0.6533},"y":{"datum":0.10006},"y2":{"datum":0.14506}}},
{"data":{"values":[{}]},"mark":{"type":"rule","color":"black","strokeWidth":1},"encoding":{"x":{"datum":-0.6711},"x2":{"datum":-0.6355},"y":{"datum":0.09958},"y2":{"datum":0.10054}}}
]},
{"encoding":{"y":{"field":"y","type":"quantitative","scale":{"domain":[-0.08,3.31],"nice":false,"zero":false},"axis":{"orient":"left","values":[0],"format":".1f","domain":false,"tickSize":-7,"tickColor":"black","labelFontSize":21,"labelColor":"black","labelPadding":13,"labelOffset":-3,"title":null}}},
"layer":[
{"transform":[{"filter":"datum.k == 'eW'"}],"mark":{"type":"area","color":"#e69f00","stroke":"#e69f00","strokeWidth":2,"interpolate":"monotone"},"encoding":{"y2":{"field":"b"}}},
{"transform":[{"filter":"datum.k == 'eV'"}],"mark":{"type":"line","strokeWidth":3.5,"interpolate":"monotone"},"encoding":{"color":{"field":"k","type":"nominal","scale":{"domain":["UP","LOW","eV"],"range":["#006400","#800080","#e69f00"]}}}},
{"data":{"values":[{}]},"mark":{"type":"rule","color":"black","strokeWidth":1},"encoding":{"x":{"datum":-0.6533},"y":{"datum":-0.08},"y2":{"datum":0.93}}},
{"data":{"values":[{}]},"mark":{"type":"rule","color":"black","strokeWidth":1},"encoding":{"x":{"datum":-0.6711},"x2":{"datum":-0.6355},"y":{"datum":0.905},"y2":{"datum":0.955}}}
]}
]
},
{
"width":367,"height":339,
"title":{"text":"DBQ","fontSize":24,"font":"DejaVu Sans","fontWeight":"normal","color":"black","anchor":"middle","frame":"group","offset":17},
"data":{"name":"dbq"},
"resolve":{"scale":{"y":"independent"},"axis":{"y":"independent"}},
"encoding":{"x":{"field":"x","type":"quantitative","scale":{"domain":[-0.6,0.583],"nice":false,"zero":false},"axis":{"values":[-0.4,0,0.4],"format":".1f","tickSize":-7,"domainColor":"black","tickColor":"black","labelFontSize":20,"labelColor":"black","labelPadding":19,"title":"RC (a.u)","titleFontSize":24,"titleFontWeight":"normal","titleColor":"black","titlePadding":10}}},
"layer":[
{"encoding":{"y":{"field":"y","type":"quantitative","scale":{"domain":[0.08006,0.14207],"nice":false,"zero":false},"axis":{"orient":"left","values":[0.11,0.14],"format":".2f","domain":false,"tickSize":-7,"tickColor":"black","labelFontSize":21,"labelColor":"black","labelPadding":13,"labelOffset":0,"title":"ω (au)","titleFontSize":25,"titleFontWeight":"normal","titleColor":"black","titleX":-97,"titleY":169,"titleBaseline":"middle"}}},
"layer":[
{"transform":[{"filter":"datum.k == 'VL'"}],"mark":{"type":"line","color":"#cc79a7","strokeWidth":4.5,"clip":true,"interpolate":"monotone"}},
{"transform":[{"filter":"datum.k == 'UP'"}],"mark":{"type":"line","strokeWidth":2.7,"clip":true,"interpolate":"monotone"},"encoding":{"detail":{"field":"n","type":"nominal"},"color":{"field":"k","type":"nominal","scale":{"domain":["UP","LOW","eV"],"range":["#006400","#800080","#e69f00"]}}}},
{"transform":[{"filter":"datum.k == 'LOW'"}],"mark":{"type":"line","strokeWidth":2.7,"clip":true,"interpolate":"monotone"},"encoding":{"detail":{"field":"n","type":"nominal"},"color":{"field":"k","type":"nominal","scale":{"domain":["UP","LOW","eV"],"range":["#006400","#800080","#e69f00"]}}}},
{"transform":[{"filter":"datum.k == 'VU'"}],"mark":{"type":"line","color":"#009e73","strokeWidth":4.5,"clip":true,"interpolate":"monotone"}},
{"data":{"name":"dbqlab"},"mark":{"type":"text","align":"right","baseline":"middle","dx":-6,"font":"Liberation Serif","fontSize":20,"color":"#222222"},"encoding":{"text":{"field":"t","type":"nominal"}}},
{"data":{"values":[{}]},"mark":{"type":"rule","color":"black","strokeWidth":1},"encoding":{"x":{"datum":-0.6},"y":{"datum":0.09762},"y2":{"datum":0.14207}}},
{"data":{"values":[{}]},"mark":{"type":"rule","color":"black","strokeWidth":1},"encoding":{"x":{"datum":-0.6129},"x2":{"datum":-0.5871},"y":{"datum":0.09716},"y2":{"datum":0.09808}}}
]},
{"encoding":{"y":{"field":"y","type":"quantitative","scale":{"domain":[-0.08,3.31],"nice":false,"zero":false},"axis":{"orient":"left","values":[0],"format":".1f","domain":false,"tickSize":-7,"tickColor":"black","labelFontSize":21,"labelColor":"black","labelPadding":13,"labelOffset":-3,"title":null}}},
"layer":[
{"transform":[{"filter":"datum.k == 'eW'"}],"mark":{"type":"area","color":"#e69f00","stroke":"#e69f00","strokeWidth":2,"interpolate":"monotone"},"encoding":{"y2":{"field":"b"}}},
{"transform":[{"filter":"datum.k == 'eV'"}],"mark":{"type":"line","strokeWidth":3.5,"interpolate":"monotone"},"encoding":{"color":{"field":"k","type":"nominal","scale":{"domain":["UP","LOW","eV"],"range":["#006400","#800080","#e69f00"]}}}},
{"data":{"values":[{}]},"mark":{"type":"rule","color":"black","strokeWidth":1},"encoding":{"x":{"datum":-0.6},"y":{"datum":-0.08},"y2":{"datum":0.84}}},
{"data":{"values":[{}]},"mark":{"type":"rule","color":"black","strokeWidth":1},"encoding":{"x":{"datum":-0.6129},"x2":{"datum":-0.5871},"y":{"datum":0.815},"y2":{"datum":0.865}}}
]}
]
}
]
}
